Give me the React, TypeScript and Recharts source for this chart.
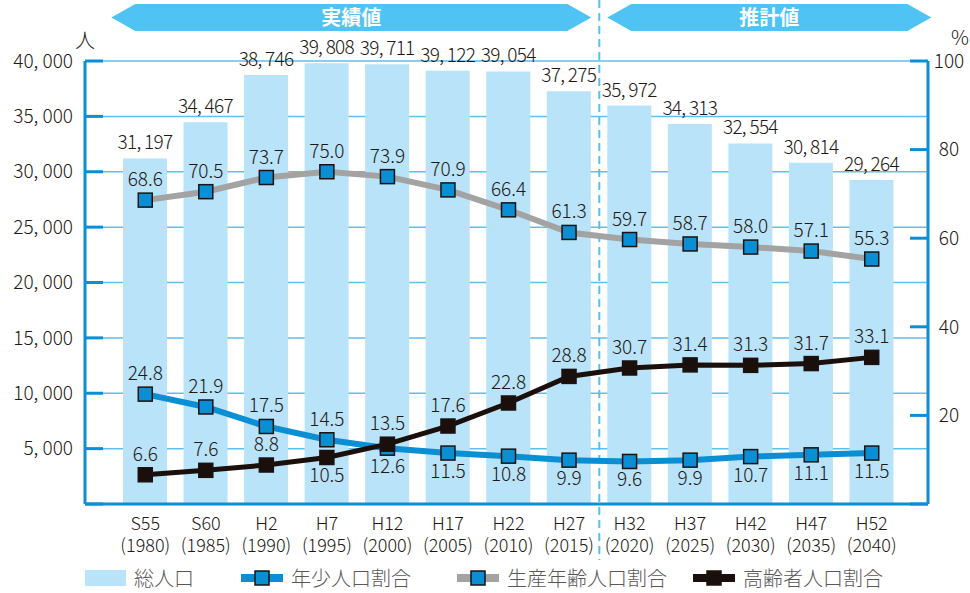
import React from "react";
import {
  ComposedChart,
  Bar,
  Line,
  XAxis,
  YAxis,
  CartesianGrid,
  Legend,
  LabelList,
  ReferenceLine,
} from "recharts";

const eras = ["S55", "S60", "H2", "H7", "H12", "H17", "H22", "H27", "H32", "H37", "H42", "H47", "H52"];
const years = ["1980", "1985", "1990", "1995", "2000", "2005", "2010", "2015", "2020", "2025", "2030", "2035", "2040"];
const totalPopulation = [31197, 34467, 38746, 39808, 39711, 39122, 39054, 37275, 35972, 34313, 32554, 30814, 29264];
const youngRatio = [24.8, 21.9, 17.5, 14.5, 12.6, 11.5, 10.8, 9.9, 9.6, 9.9, 10.7, 11.1, 11.5];
const workingRatio = [68.6, 70.5, 73.7, 75.0, 73.9, 70.9, 66.4, 61.3, 59.7, 58.7, 58.0, 57.1, 55.3];
const elderlyRatio = [6.6, 7.6, 8.8, 10.5, 13.5, 17.6, 22.8, 28.8, 30.7, 31.4, 31.3, 31.7, 33.1];
const leftTicks = [0, 5000, 10000, 15000, 20000, 25000, 30000, 35000, 40000];
const rightTicks = [0, 20, 40, 60, 80, 100];
const lastActualEra = "H27";

// which points get their value written under the marker
const youngBelow = [4, 5, 6, 7, 8, 9, 10, 11, 12];
const elderlyBelow = [3];

const data = eras.map((era, i) => ({
  era,
  year: years[i],
  total: totalPopulation[i],
  young: youngRatio[i],
  working: workingRatio[i],
  elderly: elderlyRatio[i],
}));

const FONT = '"Noto Sans CJK JP", "Noto Sans", sans-serif';
const WEIGHT = 300;
const TEXT = "#231815";
const AXIS = "#0a8fd4";
const GRID = "#5cc1ee";
const BAR = "#b9e3f9";
const BANNER = "#4fc3f3";
const DOT_BLUE = "#0a8fd4";
const GRAY = "#a3a3a3";
const BLACK = "#1a0f0b";

const withComma = (n: number) => n.toLocaleString("en-US").replace(",", ", ");

const squareDot = (fill: string) => (props: any) => {
  const { cx, cy, index } = props;
  if (cx == null || cy == null) return <g key={index} />;
  return (
    <rect
      key={index}
      x={cx - 7}
      y={cy - 7}
      width={14}
      height={14}
      fill={fill}
      stroke="#1a1311"
      strokeWidth={1.5}
    />
  );
};

const pointLabel = (below: number[]) => (props: any) => {
  const { x, y, value, index } = props;
  const under = below.includes(index);
  return (
    <text
      key={index}
      x={x}
      y={under ? y + 25 : y - 14}
      textAnchor="middle"
      fontSize={19}
      fontWeight={WEIGHT}
      fill={TEXT}
      fontFamily={FONT}
    >
      {Number(value).toFixed(1)}
    </text>
  );
};

const barLabel = (props: any) => {
  const { x, y, width, value, index } = props;
  return (
    <text
      key={index}
      x={x + width / 2}
      y={y - 9}
      textAnchor="middle"
      fontSize={19}
      fontWeight={WEIGHT}
      letterSpacing={-0.7}
      fill={TEXT}
      fontFamily={FONT}
    >
      {withComma(Number(value))}
    </text>
  );
};

const EraTick = (props: any) => {
  const { x, y, payload, index } = props;
  return (
    <text x={x} y={y} textAnchor="middle" fontSize={18} fontWeight={WEIGHT} fill={TEXT} fontFamily={FONT}>
      <tspan x={x} dy={18}>{payload.value}</tspan>
      <tspan x={x} dy={22}>({years[index]})</tspan>
    </text>
  );
};

// dashed divider between actual and projected values, with the two banners
const Divider = (props: any) => {
  const x = props.x1;
  const top = 4;
  const h = 27;
  const mid = top + h / 2;
  const banner = (l: number, r: number) =>
    `${l},${mid} ${l + 24},${top} ${r - 24},${top} ${r},${mid} ${r - 24},${top + h} ${l + 24},${top + h}`;
  return (
    <g>
      <line x1={x} x2={x} y1={0} y2={560} stroke={BANNER} strokeWidth={2} strokeDasharray="8 5" />
      <polygon points={banner(x - 488, x - 8)} fill={BANNER} />
      <polygon points={banner(x + 8, x + 332)} fill={BANNER} />
      <text x={x - 248} y={mid + 7} textAnchor="middle" fontSize={20} fontWeight="bold" fill="#fff" fontFamily={FONT}>
        実績値
      </text>
      <text x={x + 170} y={mid + 7} textAnchor="middle" fontSize={20} fontWeight="bold" fill="#fff" fontFamily={FONT}>
        推計値
      </text>
    </g>
  );
};

const LineIcon = ({ line, square }: { line: string; square: string }) => (
  <svg width={42} height={18} style={{ flexShrink: 0 }}>
    <rect x={0} y={5} width={42} height={8} fill={line} />
    <rect x={14} y={2} width={14} height={14} fill={square} stroke="#1a1311" strokeWidth={1.5} />
  </svg>
);

const legendItems = [
  { name: "総人口", width: 156, icon: <svg width={41} height={16} style={{ flexShrink: 0 }}><rect width={41} height={16} fill={BAR} /></svg> },
  { name: "年少人口割合", width: 216, icon: <LineIcon line={DOT_BLUE} square={DOT_BLUE} /> },
  { name: "生産年齢人口割合", width: 236, icon: <LineIcon line={GRAY} square={DOT_BLUE} /> },
  { name: "高齢者人口割合", width: 200, icon: <LineIcon line={BLACK} square={BLACK} /> },
];

const renderLegend = () => (
  <div
    style={{
      display: "flex",
      alignItems: "center",
      fontFamily: FONT,
      fontSize: 20,
      fontWeight: WEIGHT,
      color: "#595757",
      lineHeight: "26px",
      whiteSpace: "nowrap",
    }}
  >
    {legendItems.map((item) => (
      <div key={item.name} style={{ display: "flex", alignItems: "center", width: item.width, flexShrink: 0 }}>
        {item.icon}
        <span style={{ marginLeft: 8 }}>{item.name}</span>
      </div>
    ))}
  </div>
);

export default function App() {
  return (
    <div style={{ position: "absolute", left: 0, top: 0 }}>
      <ComposedChart
        width={970}
        height={593}
        data={data}
        margin={{ top: 61, right: 0, left: 0, bottom: 49 }}
        barSize={44}
      >
        <CartesianGrid yAxisId="left" vertical={false} stroke={GRID} strokeWidth={1.5} />
        <XAxis
          dataKey="era"
          height={40}
          padding={{ left: 30, right: 26 }}
          axisLine={{ stroke: AXIS, strokeWidth: 3 }}
          tickLine={false}
          tick={<EraTick />}
          interval={0}
        />
        <YAxis
          yAxisId="left"
          width={85}
          domain={[0, 40000]}
          ticks={leftTicks}
          axisLine={{ stroke: AXIS, strokeWidth: 3 }}
          tickLine={{ stroke: AXIS, strokeWidth: 3 }}
          tickSize={-18}
          tickMargin={30}
          tickFormatter={(v: number) => (v === 0 ? "" : withComma(v))}
          tick={{ fill: TEXT, fontSize: 19, fontFamily: FONT, fontWeight: WEIGHT }}
          label={{
            content: (p: any) => (
              <text x={p.viewBox.x + p.viewBox.width} y={p.viewBox.y - 13} textAnchor="middle" fontSize={20} fontWeight={WEIGHT} fill={TEXT} fontFamily={FONT}>
                人
              </text>
            ),
          }}
        />
        <YAxis
          yAxisId="right"
          orientation="right"
          width={42}
          domain={[0, 100]}
          ticks={rightTicks}
          axisLine={{ stroke: AXIS, strokeWidth: 3 }}
          tickLine={{ stroke: AXIS, strokeWidth: 3 }}
          tickSize={-18}
          tickMargin={39}
          tickFormatter={(v: number) => (v === 0 ? "" : String(v))}
          tick={{ fill: TEXT, fontSize: 19, fontFamily: FONT, fontWeight: WEIGHT, textAnchor: "middle" }}
          label={{
            content: (p: any) => (
              <text x={p.viewBox.x + 32} y={p.viewBox.y - 16} textAnchor="middle" fontSize={20} fontWeight={WEIGHT} fill={TEXT} fontFamily={FONT}>
                %
              </text>
            ),
          }}
        />
        <Bar yAxisId="left" dataKey="total" name="総人口" fill={BAR} isAnimationActive={false}>
          <LabelList dataKey="total" content={barLabel} />
        </Bar>
        <ReferenceLine yAxisId="left" x={lastActualEra} position="end" shape={<Divider />} />
        <Line
          yAxisId="right"
          dataKey="working"
          name="生産年齢人口割合"
          stroke={GRAY}
          strokeWidth={6}
          dot={squareDot(DOT_BLUE)}
          isAnimationActive={false}
        >
          <LabelList dataKey="working" content={pointLabel([])} />
        </Line>
        <Line
          yAxisId="right"
          dataKey="young"
          name="年少人口割合"
          stroke={DOT_BLUE}
          strokeWidth={6}
          dot={squareDot(DOT_BLUE)}
          isAnimationActive={false}
        >
          <LabelList dataKey="young" content={pointLabel(youngBelow)} />
        </Line>
        <Line
          yAxisId="right"
          dataKey="elderly"
          name="高齢者人口割合"
          stroke={BLACK}
          strokeWidth={5}
          dot={squareDot(BLACK)}
          isAnimationActive={false}
        >
          <LabelList dataKey="elderly" content={pointLabel(elderlyBelow)} />
        </Line>
        <Legend
          content={renderLegend}
          layout="horizontal"
          verticalAlign="middle"
          align="center"
          wrapperStyle={{ top: 565, left: 85, width: 860, height: 28 }}
        />
      </ComposedChart>
    </div>
  );
}
